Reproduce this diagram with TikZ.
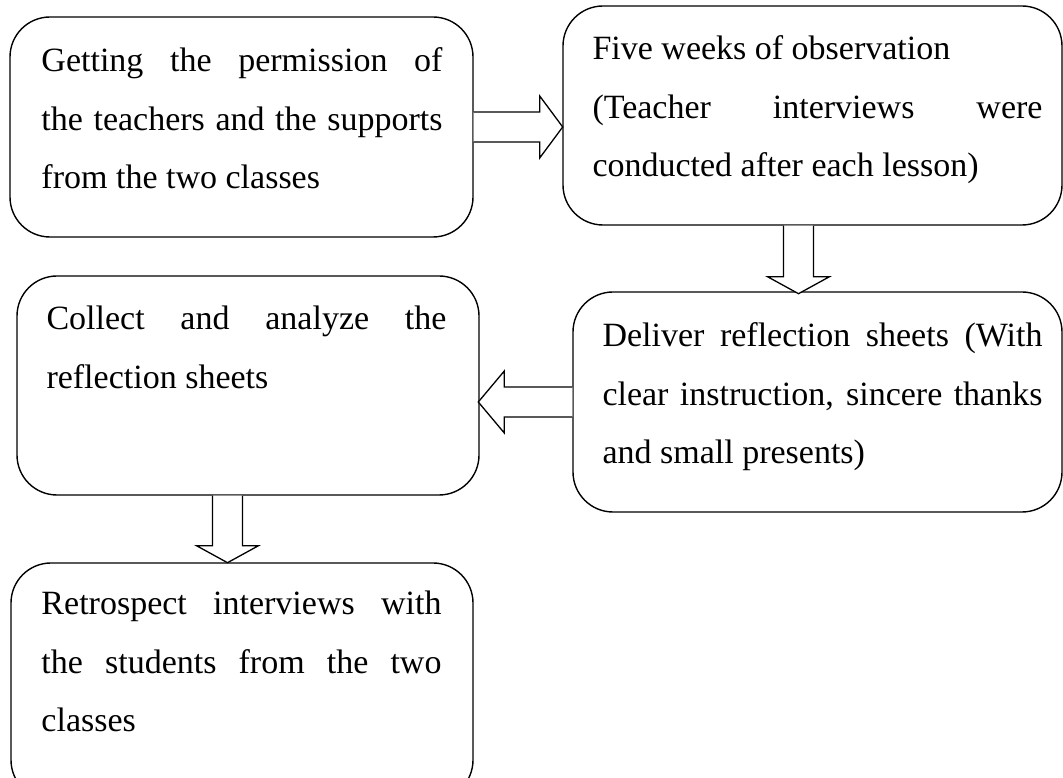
\documentclass[tikz,border=0pt]{standalone}
\usepackage{fontspec}
\setmainfont{Liberation Serif}

% hollow block arrow: start, angle, length, head length
\newcommand{\fatarrow}[4]{%
  \begin{scope}[shift={(#1)}, rotate=#2]
    \draw[fatline] (0,-15) -- ({#3-#4},-15) -- ({#3-#4},-31) -- (#3,0)
      -- ({#3-#4},31) -- ({#3-#4},15) -- (0,15);
  \end{scope}}

\begin{document}
\begin{tikzpicture}[x=1pt, y=1pt,
    stepbox/.style={draw, line width=1.4pt, rounded corners=40pt, inner sep=0pt},
    steptext/.style={inner sep=0pt, anchor=base west, font=\fontsize{34}{58.8}\selectfont},
    fatline/.style={line width=1.3pt, line join=miter, fill=white}]
  \useasboundingbox[fill=white] (0,0) rectangle (1063,778);

  % boxes
  \node[stepbox, minimum width=463pt, minimum height=220pt] (perm)    at (241.5,651)  {};
  \node[stepbox, minimum width=499pt, minimum height=219pt] (observe) at (812.5,662.5) {};
  \node[stepbox, minimum width=489pt, minimum height=220pt] (deliver) at (817.5,376)  {};
  \node[stepbox, minimum width=462pt, minimum height=219pt] (collect) at (248,392.5)  {};
  \node[stepbox, minimum width=462pt, minimum height=237pt] (retro)   at (242,96.5)   {};

  % texts
  \node[steptext] (permtext) at ([xshift=32pt, yshift=-55pt]perm.north west)
    {\parbox[t]{401pt}{Getting the permission of\linebreak the teachers and the supports\linebreak from the two classes}};
  \node[steptext] (observetext) at ([xshift=30pt, yshift=-54pt]observe.north west)
    {\parbox[t]{450pt}{Five weeks of observation\newline (Teacher interviews were\linebreak conducted after each lesson)}};
  \node[steptext] (delivertext) at ([xshift=30pt, yshift=-55pt]deliver.north west)
    {\parbox[t]{440pt}{Deliver reflection sheets (With\linebreak clear instruction, sincere thanks\linebreak and small presents)}};
  \node[steptext] (collecttext) at ([xshift=30pt, yshift=-54pt]collect.north west)
    {\parbox[t]{400pt}{Collect and analyze the\linebreak reflection sheets}};
  \node[steptext] (retrotext) at ([xshift=31pt, yshift=-52pt]retro.north west)
    {\parbox[t]{400pt}{Retrospect interviews with\linebreak the students from the two\linebreak classes}};

  % arrows
  \fatarrow{perm.east}{0}{89}{23}
  \fatarrow{[xshift=-14pt]observe.south}{-90}{68}{17}
  \fatarrow{deliver.west}{180}{94}{26}
  \fatarrow{[xshift=-20.5pt]collect.south}{-90}{67}{17}
\end{tikzpicture}
\end{document}
